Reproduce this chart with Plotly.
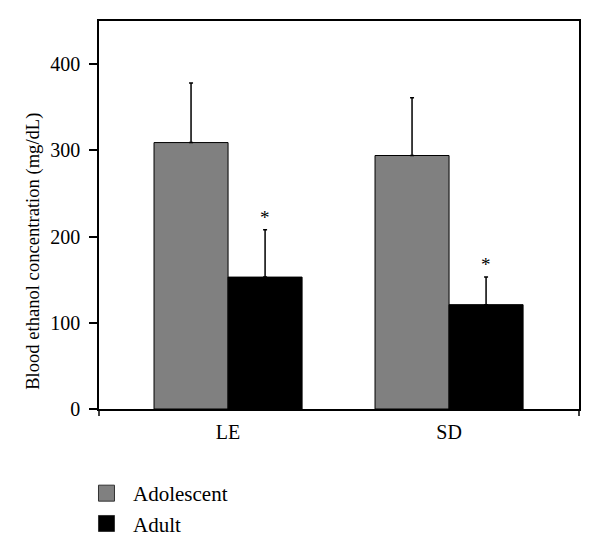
import plotly.graph_objects as go

groups = ['LE', 'SD']
series = ['Adolescent', 'Adult']
adolescent = [309, 294]
adolescent_err = [69, 67]
adult = [153, 121]
adult_err = [55, 32]
sig_marks = ['*', '*']  # adult vs adolescent

colors = {'Adolescent': '#808080', 'Adult': '#000000'}
serif = 'Liberation Serif, Times New Roman, serif'
tick_font = dict(family=serif, size=20, color='black')
title_font = dict(family=serif, size=18.6, color='black')
legend_font = dict(family=serif, size=21, color='black')
star_font = dict(family=serif, size=19, color='black')

fig = go.Figure()
for name, vals, errs in [('Adolescent', adolescent, adolescent_err),
                         ('Adult', adult, adult_err)]:
    fig.add_trace(go.Bar(
        x=groups, y=vals, name=name, showlegend=False,
        marker=dict(color=colors[name], line=dict(color='black', width=1)),
        error_y=dict(type='data', array=errs, symmetric=False,
                     arrayminus=[0] * len(errs),
                     color='black', thickness=1.5, width=2),
    ))
    # legend entry with a larger square swatch
    fig.add_trace(go.Scatter(
        x=[None], y=[None], mode='markers', name=name,
        marker=dict(symbol='square', size=16, color=colors[name],
                    line=dict(color='#333333', width=1)),
    ))

# asterisks above adult error bars
bar_w = (1 - 0.33) / 2
for i, g in enumerate(groups):
    fig.add_annotation(x=i + bar_w / 2, y=adult[i] + adult_err[i],
                       text=sig_marks[i], showarrow=False, yanchor='bottom',
                       yshift=0, font=star_font)

# y title as annotation (sits a bit below the plot centre in the original)
fig.add_annotation(text='Blood ethanol concentration (mg/dL)', textangle=-90,
                   xref='paper', yref='paper', x=-0.1375, y=0.405,
                   xanchor='center', yanchor='middle', showarrow=False,
                   font=title_font)

fig.update_layout(
    width=600, height=556,
    margin=dict(l=91, r=29, t=13, b=155),
    plot_bgcolor='white', paper_bgcolor='white',
    barmode='group', bargap=0.33, bargroupgap=0,
    font=tick_font,
    showlegend=True,
    legend=dict(x=-0.0396, y=-0.165, xanchor='left', yanchor='top',
                font=legend_font, itemwidth=43, tracegroupgap=0,
                traceorder='normal'),
)
fig.update_xaxes(range=[-0.584, 1.588], showline=True, linecolor='black',
                 linewidth=1.5, mirror=True, ticks='', showgrid=False,
                 tickfont=tick_font, ticklabelstandoff=4)
fig.update_yaxes(range=[0, 450], tickvals=[0, 100, 200, 300, 400],
                 showline=True, linecolor='black', linewidth=1.5, mirror=True,
                 ticks='outside', ticklen=8, tickwidth=1.5, tickcolor='black',
                 showgrid=False, zeroline=False, tickfont=tick_font,
                 ticklabelstandoff=5)

for xp in [0, 1]:
    fig.add_shape(type='line', xref='paper', yref='paper', x0=xp, x1=xp,
                  y0=0, y1=-0.018, line=dict(color='black', width=1.5))

fig.write_html('out.html')
